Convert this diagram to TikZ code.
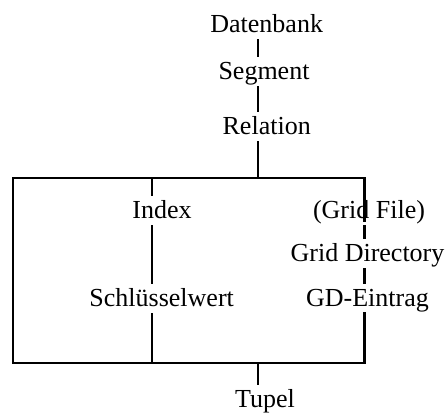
\documentclass[tikz,border=0pt]{standalone}
\usepackage{fontspec}
\setmainfont{Liberation Serif}
\usepackage{tikz}
\usetikzlibrary{positioning,calc}
\tikzset{
  lab/.style ={font=\fontsize{26}{30}\selectfont, anchor=base, inner xsep=2pt, inner ysep=5pt,
               text height=18pt, text depth=1pt},
  ln/.style  ={line width=2.4pt, line cap=butt},
  frame/.style={ln, line cap=rect, line join=miter},
}

\begin{document}
\begin{tikzpicture}[x=1pt,y=-1pt]
  \useasboundingbox (0,0) rectangle (448,414);
  % names along the trunk
  \node[lab] (dbank) at (266.7,33)  {Datenbank};
  \node[lab] (segm)  at (264,80)    {Segment};
  \node[lab] (rel)   at (266.7,135) {Relation};
  \node[lab] (idx)   at (162,219)   {Index};
  \node[lab] (skey)  at (161.7,307) {Schlüsselwert};
  \node[lab] (gfile) at (369,219)   {(Grid File)};
  \node[lab] (gdir)  at (367.5,262) {Grid Directory};
  \node[lab] (gdent) at (367.5,307) {GD-Eintrag};
  \node[lab] (tupel) at (265,408)   {Tupel};
  % frame
  \coordinate (trunk) at (258,0);
  \coordinate (bxtl) at (12.7,178);
  \coordinate (bxtr) at (364.5,178);
  \coordinate (bxbl) at (12.7,363);
  \coordinate (bxbr) at (364.5,363);
  \coordinate (ixt)  at (152,178);
  \coordinate (ixb)  at (152,363);
  \draw[frame] (bxtr) -- (bxtl) -- (bxbl) -- (bxbr);
  \draw[ln] (dbank.south -| trunk) -- (segm.north -| trunk);
  \draw[ln] (segm.south -| trunk) -- (rel.north -| trunk);
  \draw[ln] (rel.south -| trunk) -- (bxtl -| trunk);
  \draw[ln] (bxbl -| trunk) -- (tupel.north -| trunk);
  \draw[ln] (ixt) -- (idx.north -| ixt);
  \draw[ln] (idx.south -| ixt) -- (skey.north -| ixt);
  \draw[ln] (skey.south -| ixt) -- (ixb);
  \draw[frame] (bxtr) -- ([yshift=-2pt]gfile.base -| bxtr);
  \draw[ln] (gfile.south -| bxtr) -- (gdir.north -| bxtr);
  \draw[ln] (gdir.south -| bxtr) -- (gdent.north -| bxtr);
  \draw[frame] (gdent.south -| bxtr) -- (bxbr);
\end{tikzpicture}
\end{document}
